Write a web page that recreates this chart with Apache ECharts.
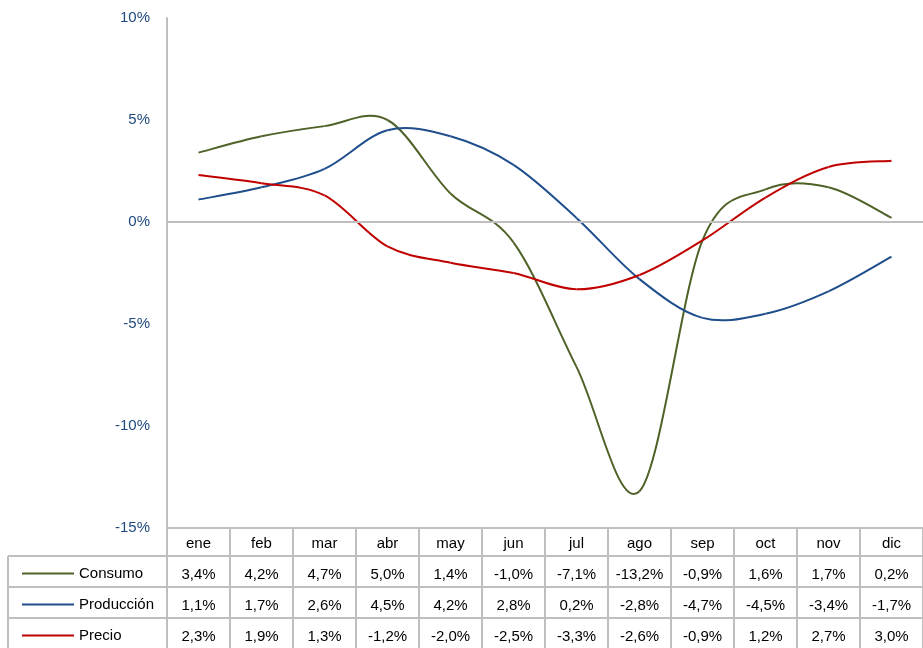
<!DOCTYPE html>
<html>
<head>
<meta charset="utf-8">
<script src="https://cdn.jsdelivr.net/npm/echarts@6/dist/echarts.min.js"></script>
<style>
  html, body { margin: 0; padding: 0; background: #fff; }
  #main { width: 923px; height: 648px; }
</style>
</head>
<body>
<div id="main"></div>
<script>
const meses = ['ene', 'feb', 'mar', 'abr', 'may', 'jun', 'jul', 'ago', 'sep', 'oct', 'nov', 'dic'];
const consumo = [3.4, 4.2, 4.7, 5.0, 1.4, -1.0, -7.1, -13.2, -0.9, 1.6, 1.7, 0.2];
const produccion = [1.1, 1.7, 2.6, 4.5, 4.2, 2.8, 0.2, -2.8, -4.7, -4.5, -3.4, -1.7];
const precio = [2.3, 1.9, 1.3, -1.2, -2.0, -2.5, -3.3, -2.6, -0.9, 1.2, 2.7, 3.0];
const nombres = ['Consumo', 'Producción', 'Precio'];
const colores = ['#4F6228', '#1F4E8C', '#C00000'];

const FONT = 'Liberation Sans';
const GRIS = '#BFBFBF';
const fmt = v => v.toFixed(1).replace('.', ',') + '%';

const chart = echarts.init(document.getElementById('main'));

// eje de tabla: una fila por serie, desplazada hacia abajo
const filaEje = (valores, offset) => ({
    type: 'category',
    data: valores.map(fmt),
    position: 'bottom',
    offset: offset,
    axisLine: { show: false, onZero: false },
    axisTick: { show: false },
    axisLabel: { interval: 0, color: '#000', fontFamily: FONT, fontSize: 15, margin: 8 }
});

// curva suavizada tipo Excel (catmull-rom -> bezier), todo en una pieza
const curva = (valores, color) => (params, api) => {
    if (params.dataIndex !== 0) return null;
    const p = valores.map((v, i) => api.coord([i, v]));
    const n = p.length;
    const tramos = [];
    for (let i = 0; i < n - 1; i++) {
        const p0 = p[Math.max(i - 1, 0)], p1 = p[i], p2 = p[i + 1], p3 = p[Math.min(i + 2, n - 1)];
        tramos.push({
            type: 'bezierCurve',
            shape: {
                x1: p1[0], y1: p1[1], x2: p2[0], y2: p2[1],
                cpx1: p1[0] + (p2[0] - p0[0]) / 6, cpy1: p1[1] + (p2[1] - p0[1]) / 6,
                cpx2: p2[0] - (p3[0] - p1[0]) / 6, cpy2: p2[1] - (p3[1] - p1[1]) / 6
            },
            style: { stroke: color, lineWidth: 2, fill: null }
        });
    }
    return { type: 'group', children: tramos };
};

const leyenda = (nombre, top) => ({
    orient: 'vertical',
    left: 17,
    top: top,
    itemWidth: 52,
    itemHeight: 2,
    icon: 'rect',
    selectedMode: false,
    data: [nombre],
    textStyle: { fontFamily: FONT, fontSize: 15, color: '#000' }
});

const option = {
    animation: false,
    grid: { left: 167, right: 0, top: 18, bottom: 120 },
    legend: [leyenda(nombres[0], 561), leyenda(nombres[1], 592), leyenda(nombres[2], 623)],
    xAxis: [
        {
            type: 'category',
            data: meses,
            position: 'bottom',
            boundaryGap: true,
            axisLine: { onZero: false, lineStyle: { color: GRIS, width: 2 } },
            axisTick: { show: true, length: 120, lineStyle: { color: GRIS, width: 2 } },
            axisLabel: { interval: 0, color: '#000', fontFamily: FONT, fontSize: 15, margin: 8 }
        },
        filaEje(consumo, 31),
        filaEje(produccion, 62),
        filaEje(precio, 93)
    ],
    yAxis: {
        type: 'value',
        min: -15,
        max: 10,
        interval: 5,
        axisLine: { show: true, lineStyle: { color: GRIS, width: 2 } },
        axisTick: { show: false },
        splitLine: { show: false },
        axisLabel: { formatter: '{value}%', color: '#1F497D', fontFamily: FONT, fontSize: 15, margin: 17 }
    },
    series: [consumo, produccion, precio].map((d, i) => ({
        name: nombres[i],
        type: 'custom',
        data: d.map((v, k) => [k, v]),
        encode: { x: 0, y: 1 },
        renderItem: curva(d, colores[i]),
        itemStyle: { color: colores[i] },
        markLine: i === 0 ? {
            silent: true,
            symbol: 'none',
            label: { show: false },
            lineStyle: { color: GRIS, width: 2, type: 'solid' },
            data: [{ yAxis: 0 }]
        } : undefined,
        z: 3
    })),
    graphic: [556, 587, 618].map(y => ({
        type: 'line',
        shape: { x1: 8, y1: y, x2: 923, y2: y },
        style: { stroke: GRIS, lineWidth: 2 },
        silent: true
    })).concat([{
        type: 'line',
        shape: { x1: 8, y1: 556, x2: 8, y2: 648 },
        style: { stroke: GRIS, lineWidth: 2 },
        silent: true
    }])
};

chart.setOption(option);
</script>
</body>
</html>
